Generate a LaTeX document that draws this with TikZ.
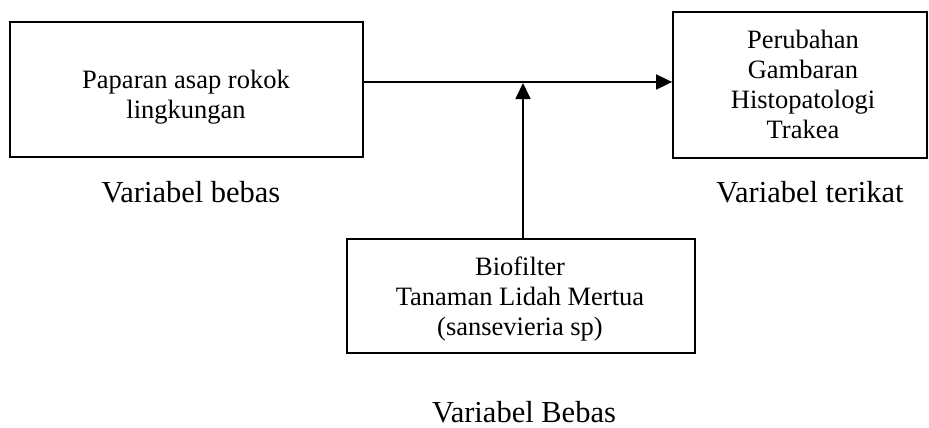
\documentclass[tikz,border=0pt]{standalone}
\usepackage{fontspec}
\setmainfont{Liberation Serif}
\usetikzlibrary{arrows.meta}
\begin{document}
\begin{tikzpicture}[x=1pt,y=-1pt,
  boxshape/.style={draw, line width=1.8pt, inner sep=0pt, rectangle},
  boxtext/.style={align=center, inner sep=0pt, font=\fontsize{26.5}{30}\selectfont},
  lbl/.style={inner sep=0pt, anchor=base, font=\fontsize{30.5}{36}\selectfont},
  arr/.style={line width=1.8pt, -{Triangle[length=16pt,width=15pt]}}]
\useasboundingbox (0,0) rectangle (929,428);
\fill[white] (0,0) rectangle (929,428);
% boxes
\node[boxshape, minimum width=353pt, minimum height=135pt] (L) at (186.5,89.5) {};
\node[boxtext] (Lt) at (186,97) {Paparan asap rokok\\lingkungan};
\node[boxshape, minimum width=254pt, minimum height=146pt] (R) at (800,85) {};
\node[boxtext] (Rt) at (803,84) {Perubahan\\Gambaran\\Histopatologi\\Trakea};
\node[boxshape, minimum width=348pt, minimum height=114pt] (B) at (521,296) {};
\node[boxtext] (Bt) at (520,299) {Biofilter\\Tanaman Lidah Mertua\\(sansevieria sp)};
% labels
\node[lbl] (l1) at (191,202) {Variabel bebas};
\node[lbl] (l2) at (810,202) {Variabel terikat};
\node[lbl] (l3) at (524,422) {Variabel Bebas};
% connectors
\coordinate (hs) at ([yshift=7.5pt]L.east);
\coordinate (he) at (hs -| R.west);
\draw[arr] (hs) -- (he);
\coordinate (vs) at ([xshift=2pt]B.north);
\coordinate (ve) at (523,83);
\draw[arr] (vs) -- (ve);
\end{tikzpicture}
\end{document}
